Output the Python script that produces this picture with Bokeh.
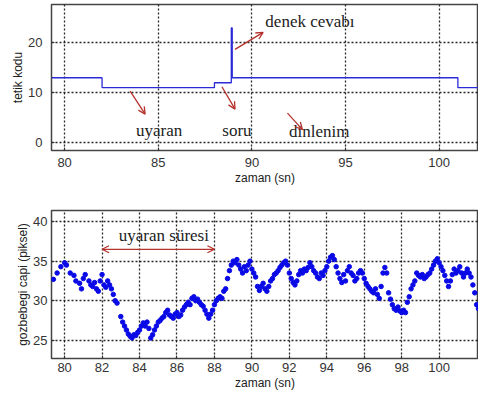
from bokeh.plotting import figure
from bokeh.layouts import column
from bokeh.models import Range1d, FixedTicker, Label, Arrow, OpenHead
from bokeh.embed import file_html
from bokeh.resources import INLINE

# ---- top panel data: trigger code steps ----
trig_time = [79.3, 82.0, 88.0, 88.9, 88.95, 101.0, 102.1]
trig_code = [13, 11, 12, 23, 13, 11, 11]

# ---- bottom panel data: pupil diameter (pixels) ----
pupil_t = [79.4, 79.6, 79.8, 80.0, 80.1, 80.3, 80.5, 80.6, 80.8, 80.9,
           81.0, 81.1, 81.3, 81.4, 81.5, 81.6, 81.7, 81.8, 81.9, 82.0,
           82.1, 82.2, 82.3, 82.4, 82.5, 82.6, 82.7, 82.8, 83.0, 83.1,
           83.2, 83.3, 83.4, 83.5, 83.6, 83.7, 83.8, 83.9, 84.0, 84.1,
           84.2, 84.3, 84.4, 84.5, 84.6, 84.7, 84.8, 84.9, 85.0, 85.1,
           85.2, 85.3, 85.4, 85.5, 85.6, 85.7, 85.8, 85.9, 86.0, 86.1,
           86.2, 86.3, 86.4, 86.5, 86.6, 86.7, 86.8, 86.9, 87.0, 87.1,
           87.2, 87.3, 87.4, 87.5, 87.6, 87.7, 87.8, 87.9, 88.0, 88.1,
           88.2, 88.3, 88.4, 88.5, 88.6, 88.7, 88.8, 88.9, 89.0, 89.1,
           89.2, 89.3, 89.4, 89.5, 89.6, 89.7, 89.8, 89.9, 90.0, 90.1,
           90.2, 90.3, 90.4, 90.5, 90.6, 90.7, 90.8, 90.9, 91.0, 91.1,
           91.2, 91.3, 91.4, 91.5, 91.6, 91.7, 91.8, 91.9, 92.0, 92.1,
           92.2, 92.3, 92.4, 92.5, 92.6, 92.7, 92.8, 92.9, 93.0, 93.1,
           93.2, 93.3, 93.4, 93.5, 93.6, 93.7, 93.8, 93.9, 94.0, 94.1,
           94.2, 94.3, 94.4, 94.5, 94.6, 94.7, 94.8, 94.9, 95.0, 95.1,
           95.2, 95.3, 95.4, 95.5, 95.6, 95.7, 95.8, 95.9, 96.0, 96.1,
           96.2, 96.3, 96.4, 96.5, 96.6, 96.7, 96.8, 96.9, 97.0, 97.1,
           97.2, 97.3, 97.4, 97.5, 97.6, 97.7, 97.8, 97.9, 98.0, 98.1,
           98.2, 98.3, 98.4, 98.5, 98.6, 98.7, 98.8, 98.9, 99.0, 99.1,
           99.2, 99.3, 99.4, 99.5, 99.6, 99.7, 99.8, 99.9, 100.0, 100.1,
           100.2, 100.3, 100.4, 100.5, 100.6, 100.7, 100.8, 100.9, 101.0, 101.1,
           101.2, 101.3, 101.4, 101.5, 101.6, 101.7, 101.8, 101.9, 102.0, 102.1]
pupil_d = [32.7, 33.5, 34.3, 34.8, 34.5, 33.5, 33.2, 32.5, 32.2, 31.5,
           32.8, 33.3, 32.5, 32.0, 31.8, 32.3, 31.5, 31.2, 32.5, 33.3,
           32.0, 31.7, 32.5, 32.0, 31.5, 30.8, 30.0, 29.7, 28.0, 27.3,
           26.8, 26.3, 25.8, 25.5, 25.3, 25.7, 25.6, 26.0, 26.3, 26.8,
           27.2, 26.8, 27.3, 26.5, 25.3, 25.7, 26.3, 26.8, 27.3, 27.5,
           27.8, 28.0, 28.5, 28.8, 28.2, 28.0, 27.8, 28.3, 28.5, 28.0,
           28.2, 28.8, 29.2, 29.5, 29.8, 29.5, 30.3, 30.5, 30.0, 30.2,
           29.8, 29.5, 29.3, 28.8, 28.3, 27.8, 28.3, 28.8, 29.5, 30.0,
           30.3, 30.5, 30.3, 31.2, 31.5, 32.8, 33.8, 34.5, 35.0, 34.8,
           35.2, 34.5, 34.0, 33.5, 34.3, 33.8, 34.5, 35.0, 34.0, 33.5,
           33.0, 31.8, 31.3, 31.8, 32.2, 31.5, 31.2, 31.8, 32.5, 32.8,
           33.3, 33.5, 33.8, 34.2, 34.5, 34.8, 35.0, 34.5, 33.5, 32.8,
           32.3, 32.0, 32.5, 33.3, 33.8, 33.5, 34.0, 33.8, 34.2, 34.8,
           34.3, 33.8, 33.5, 33.0, 32.8, 33.5, 33.2, 33.8, 34.3, 35.0,
           35.5, 35.7, 35.2, 34.3, 33.5, 32.8, 32.3, 33.3, 32.5, 33.8,
           34.3, 33.5, 33.2, 32.5, 32.8, 33.5, 33.8, 33.5, 32.8, 32.2,
           31.8, 31.5, 31.2, 31.0, 31.5, 30.8, 30.3, 31.8, 33.5, 34.2,
           33.5, 31.0, 30.2, 29.5, 29.0, 28.8, 29.2, 28.7, 28.5, 28.8,
           28.5, 29.8, 30.5, 31.5, 32.0, 32.5, 33.5, 33.2, 33.0, 33.3,
           32.8, 33.0, 33.3, 33.5, 34.0, 34.5, 35.0, 35.3, 34.8, 34.3,
           33.8, 33.2, 32.5, 31.8, 32.5, 33.3, 34.0, 33.5, 33.8, 34.3,
           33.5, 33.0, 33.5, 34.0, 33.5, 33.0, 32.0, 31.0, 29.5, 29.0]

top_xticks = [80, 85, 90, 95, 100]
top_yticks = [0, 10, 20]
bot_xticks = [80, 82, 84, 86, 88, 90, 92, 94, 96, 98, 100]
bot_yticks = [25, 30, 35, 40]

# annotations (data coordinates)
top_labels = ["denek cevabı", "uyaran", "soru", "dinlenim"]
top_label_x = [93.1, 85.05, 89.2, 93.6]
top_label_y = [24.3, 2.4, 2.4, 2.2]
top_arrows = [  # x0, y0, x1, y1
    (89.1, 18.7, 90.6, 22.1),
    (83.5, 10.3, 84.3, 5.7),
    (88.4, 11.2, 89.1, 6.7),
    (91.9, 5.9, 92.7, 2.6),
]
stim_start, stim_end = 82.0, 88.0

XR = (79.3, 102.1)
ARROW_COLOR = "#b5312b"
TICK_FONT = "13px"
LABEL_FONT = "12px"
SANS = "Liberation Sans"
SERIF = "Liberation Serif"


def style(p, xticks, yticks):
    p.outline_line_color = "#444444"
    p.outline_line_width = 1.5
    p.background_fill_color = "white"
    p.border_fill_color = "white"
    for ax in (p.xaxis[0], p.yaxis[0]):
        ax.axis_line_color = None
        ax.major_tick_in = 3
        ax.major_tick_out = 0
        ax.minor_tick_line_color = None
        ax.major_tick_line_color = "#333333"
        ax.major_label_text_font = SANS
        ax.major_label_text_font_size = TICK_FONT
        ax.major_label_text_color = "#333333"
        ax.axis_label_text_font = SANS
        ax.axis_label_text_font_size = LABEL_FONT
        ax.axis_label_text_font_style = "normal"
        ax.axis_label_text_color = "#222222"
    p.xaxis[0].ticker = FixedTicker(ticks=xticks)
    p.yaxis[0].ticker = FixedTicker(ticks=yticks)
    for g in (p.xgrid[0], p.ygrid[0]):
        g.grid_line_color = "#111111"
        g.grid_line_dash = "2 2"
        g.grid_line_width = 1.3
        g.grid_line_alpha = 0.9


# ---- top figure ----
p1 = figure(width=478, height=188, output_backend="svg", toolbar_location=None,
            x_range=Range1d(*XR), y_range=Range1d(-1.6, 27.7),
            min_border_left=51, min_border_right=0, min_border_top=4,
            min_border_bottom=38)
style(p1, top_xticks, top_yticks)
p1.xaxis.axis_label = "zaman (sn)"
p1.yaxis.axis_label = "tetik kodu"
p1.xaxis[0].major_label_standoff = 7
p1.xaxis[0].axis_label_standoff = 1
p1.yaxis[0].major_label_standoff = 9
p1.yaxis[0].axis_label_standoff = 0
p1.step(trig_time, trig_code, mode="after", line_color="#2a2ad6", line_width=1.3)

for txt, lx, ly in zip(top_labels, top_label_x, top_label_y):
    p1.add_layout(Label(x=lx, y=ly, text=txt, text_font=SERIF, text_font_size="17px",
                        text_color="#222222", text_align="center", text_baseline="middle"))
for (x0, y0, x1, y1) in top_arrows:
    p1.add_layout(Arrow(x_start=x0, y_start=y0, x_end=x1, y_end=y1,
                        line_color=ARROW_COLOR, line_width=1.3,
                        end=OpenHead(size=7, line_color=ARROW_COLOR, line_width=1.3)))

# ---- bottom figure ----
p2 = figure(width=478, height=204, output_backend="svg", toolbar_location=None,
            x_range=Range1d(*XR), y_range=Range1d(22.7, 41.4),
            min_border_left=50, min_border_right=0, min_border_top=22,
            min_border_bottom=34)
style(p2, bot_xticks, bot_yticks)
p2.xaxis.axis_label = "zaman (sn)"
p2.yaxis.axis_label = "gozbebegi capi (piksel)"
p2.xaxis[0].major_label_standoff = 4
p2.xaxis[0].axis_label_standoff = 1
p2.yaxis[0].major_label_standoff = 4
p2.yaxis[0].axis_label_standoff = 0
p2.scatter(pupil_t, pupil_d, marker="circle", size=4.5, fill_color="#0a0ae6",
           line_color="#0a0ae6")

p2.add_layout(Label(x=85.3, y=38.3, text="uyaran süresi", text_font=SERIF,
                    text_font_size="17px", text_color="#222222",
                    text_align="center", text_baseline="middle"))
p2.add_layout(Arrow(x_start=stim_start, y_start=36.5, x_end=stim_end, y_end=36.5,
                    line_color=ARROW_COLOR, line_width=1.3,
                    start=OpenHead(size=7, line_color=ARROW_COLOR, line_width=1.3),
                    end=OpenHead(size=7, line_color=ARROW_COLOR, line_width=1.3)))

layout = column(p1, p2, spacing=0)
open("out.html", "w").write(file_html(layout, INLINE))
